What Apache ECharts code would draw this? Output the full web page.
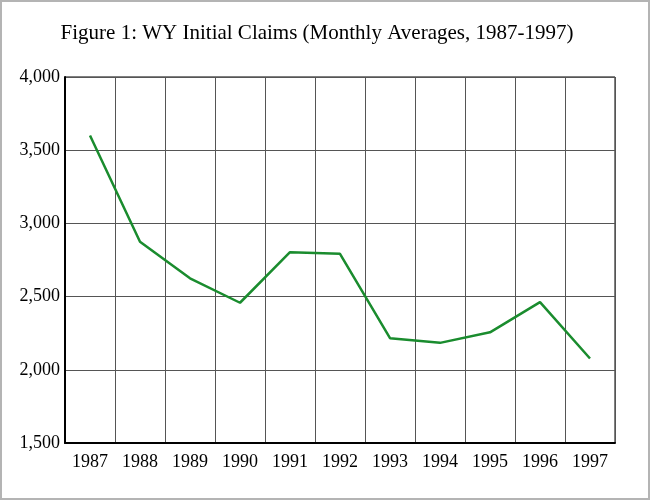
<!DOCTYPE html>
<html>
<head>
<meta charset="utf-8">
<script src="https://cdn.jsdelivr.net/npm/echarts@6/dist/echarts.min.js"></script>
<style>
html,body{margin:0;padding:0;background:#fff;}
#frame{width:650px;height:500px;box-sizing:border-box;border:2px solid #b4b4b4;position:relative;}
#chart{position:absolute;left:-2px;top:-2px;width:650px;height:500px;}
</style>
</head>
<body>
<div id="frame"><div id="chart"></div></div>
<script>
const titleText = 'Figure 1: WY Initial Claims (Monthly Averages, 1987-1997)';
const years = ['1987','1988','1989','1990','1991','1992','1993','1994','1995','1996','1997'];
const claims = [3600, 2875, 2625, 2458, 2803, 2792, 2216, 2184, 2256, 2462, 2077];
const yMin = 1500, yMax = 4000, yStep = 500;

const font = '"Liberation Serif", "Times New Roman", serif';
const chart = echarts.init(document.getElementById('chart'), null, {renderer: 'canvas'});
chart.setOption({
  animation: false,
  backgroundColor: 'transparent',
  title: {
    text: titleText,
    left: 312,
    textAlign: 'center',
    top: 18,
    textStyle: {fontFamily: font, fontSize: 21, fontWeight: 'normal', color: '#000'}
  },
  grid: {left: 65, right: 35, top: 77, bottom: 57, show: true, borderColor: '#000', borderWidth: 1, backgroundColor: 'transparent'},
  xAxis: {
    type: 'category',
    data: years,
    boundaryGap: true,
    axisLine: {show: true, lineStyle: {color: '#000', width: 2}},
    axisTick: {show: false},
    axisLabel: {fontFamily: font, fontSize: 18, color: '#000', margin: 10, interval: 0},
    splitLine: {show: true, interval: 0, lineStyle: {color: '#555', width: 1}}
  },
  yAxis: {
    type: 'value',
    min: yMin, max: yMax, interval: yStep,
    axisLine: {show: true, lineStyle: {color: '#000', width: 2}},
    axisTick: {show: false},
    axisLabel: {fontFamily: font, fontSize: 18, color: '#000', margin: 5,
      formatter: v => v.toLocaleString('en-US')},
    splitLine: {show: true, lineStyle: {color: '#555', width: 1}}
  },
  series: [{
    type: 'line',
    data: claims,
    symbol: 'none',
    lineStyle: {color: '#1a8c2e', width: 2.5},
    z: 5
  }]
});
</script>
</body>
</html>
